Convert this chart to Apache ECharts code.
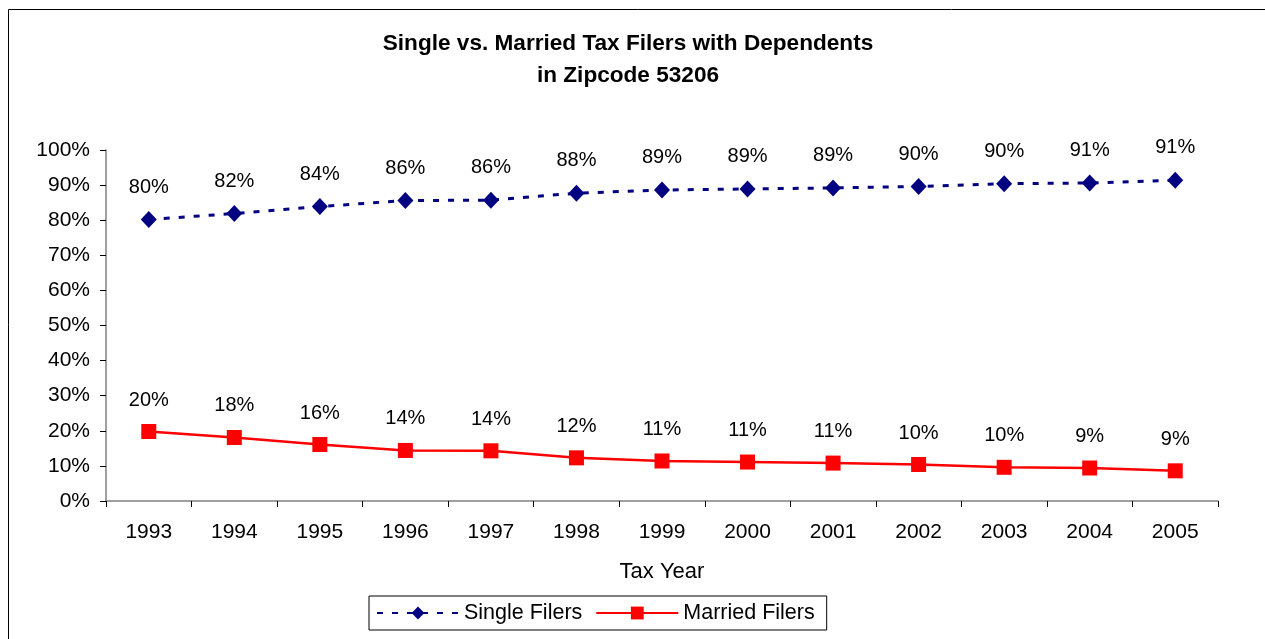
<!DOCTYPE html>
<html>
<head>
<meta charset="utf-8">
<script src="https://cdn.jsdelivr.net/npm/echarts@6/dist/echarts.min.js"></script>
<style>
  html, body { margin: 0; padding: 0; background: #fff; }
  #taxFilersChart { width: 1265px; height: 639px; }
</style>
</head>
<body>
<div id="taxFilersChart"></div>
<script>
// values (percent of filers with dependents)
const years = ['1993', '1994', '1995', '1996', '1997', '1998', '1999', '2000', '2001', '2002', '2003', '2004', '2005'];
const singleFilers = [80.2, 81.9, 83.9, 85.6, 85.7, 87.7, 88.6, 88.9, 89.2, 89.6, 90.4, 90.6, 91.4];
const marriedFilers = [19.8, 18.1, 16.1, 14.4, 14.3, 12.3, 11.4, 11.1, 10.8, 10.4, 9.6, 9.4, 8.6];
const yTicks = [0, 10, 20, 30, 40, 50, 60, 70, 80, 90, 100];

const font = 'Liberation Sans, Arial, sans-serif';
const chart = echarts.init(document.getElementById('taxFilersChart'));

const dataLabel = {
  show: true,
  position: 'top',
  distance: 14,
  fontFamily: font,
  fontSize: 20,
  color: '#000',
  formatter: function (p) { return Math.round(p.value) + '%'; }
};

chart.setOption({
  animation: false,
  textStyle: {fontFamily: font},
  title: {
    text: 'Single vs. Married Tax Filers with Dependents\nin Zipcode 53206',
    left: 623,
    textAlign: 'center',
    top: 23,
    textStyle: {
      fontFamily: font,
      fontSize: 22.6,
      fontWeight: 'bold',
      color: '#000',
      lineHeight: 32
    }
  },
  graphic: [{
    type: 'rect',
    shape: {x: 8.5, y: 9.5, width: 1300, height: 700},
    style: {fill: 'none', stroke: '#000', lineWidth: 1},
    silent: true,
    z: -1
  }],
  legend: {
    data: ['Single Filers', 'Married Filers'],
    left: 369,
    top: 596,
    itemWidth: 82,
    itemHeight: 16,
    itemGap: 13,
    padding: [6, 12, 6, 7],
    borderColor: '#000',
    borderWidth: 1,
    textStyle: {fontFamily: font, fontSize: 21.5, color: '#000'}
  },
  grid: {
    left: 106,
    right: 47,
    top: 150,
    bottom: 138
  },
  xAxis: {
    type: 'category',
    data: years,
    name: 'Tax Year',
    nameLocation: 'middle',
    nameGap: 60,
    nameTextStyle: {fontFamily: font, fontSize: 22, color: '#000'},
    axisLine: {lineStyle: {color: '#808080', width: 1.5}},
    axisTick: {show: true, length: 6, lineStyle: {color: '#000'}},
    axisLabel: {fontFamily: font, fontSize: 21, color: '#000', margin: 21},
    splitLine: {show: false}
  },
  yAxis: {
    type: 'value',
    min: yTicks[0],
    max: yTicks[yTicks.length - 1],
    interval: 10,
    axisLine: {show: true, lineStyle: {color: '#808080', width: 1.5}},
    axisTick: {show: true, length: 6, lineStyle: {color: '#000'}},
    axisLabel: {
      fontFamily: font,
      fontSize: 21,
      color: '#000',
      margin: 16,
      formatter: function (v) { return v + '%'; }
    },
    splitLine: {show: false}
  },
  series: [
    {
      name: 'Single Filers',
      type: 'line',
      data: singleFilers,
      symbol: 'diamond',
      symbolSize: [16, 17],
      itemStyle: {color: '#000080'},
      lineStyle: {color: '#000080', width: 3, type: [6, 9]},
      label: dataLabel
    },
    {
      name: 'Married Filers',
      type: 'line',
      data: marriedFilers,
      symbol: 'rect',
      symbolSize: 15,
      itemStyle: {color: '#ff0000'},
      lineStyle: {color: '#ff0000', width: 2.5},
      label: dataLabel
    }
  ]
});
</script>
</body>
</html>
